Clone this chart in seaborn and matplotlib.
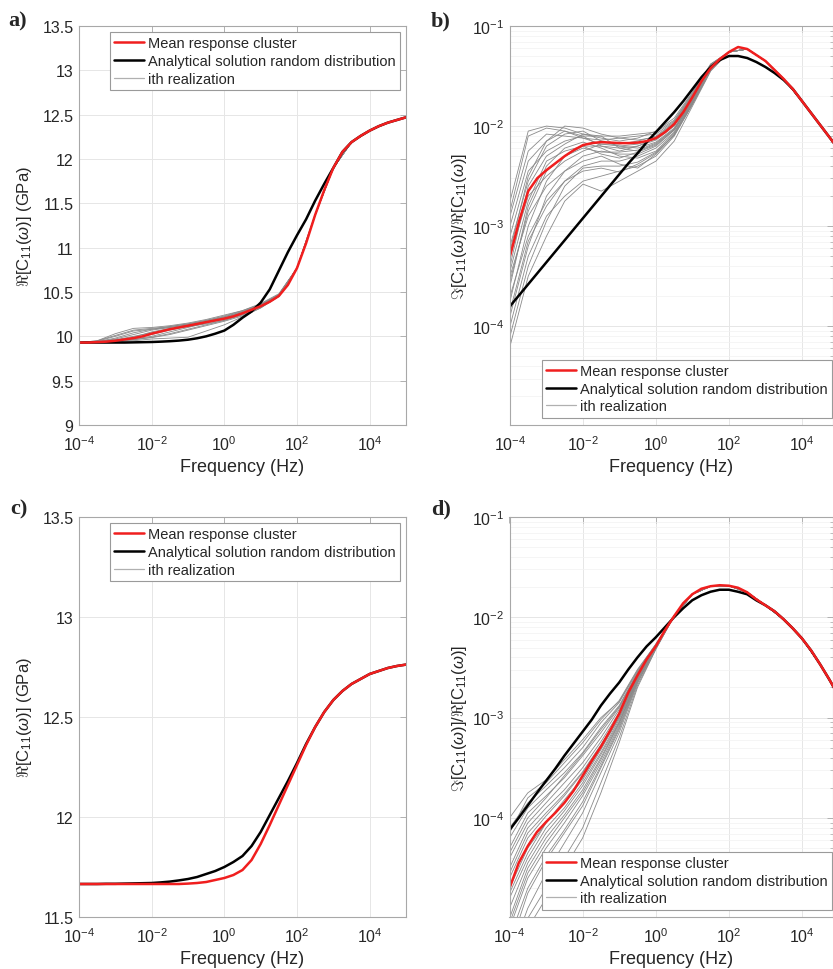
import numpy as np
import pandas as pd
import matplotlib
matplotlib.use("Agg")
import matplotlib.pyplot as plt
import seaborn as sns
from matplotlib.lines import Line2D
from matplotlib.ticker import (FixedLocator, LogLocator, NullFormatter, NullLocator,
                               FormatStrFormatter, LogFormatterSciNotation)

# ---------------- data ----------------
# frequency exponents (log10 Hz)
exp_fine = np.arange(-4.0, 5.001, 0.25)   # 37 points, main curves
exp_half = np.arange(-4.0, 5.001, 0.5)    # 19 points, realizations

# Panel a : Re[C11] (GPa)
a_mean = [9.93, 9.93, 9.935, 9.94, 9.95, 9.965, 9.98, 10.0, 10.03, 10.055, 10.08, 10.10,
          10.12, 10.14, 10.16, 10.18, 10.20, 10.225, 10.26, 10.30, 10.34, 10.39, 10.455,
          10.58, 10.77, 11.05, 11.37, 11.65, 11.90, 12.08, 12.19, 12.26, 12.32, 12.37,
          12.41, 12.44, 12.47]
a_analytic = [9.93, 9.93, 9.93, 9.93, 9.93, 9.93, 9.932, 9.934, 9.936, 9.94, 9.945, 9.952,
              9.962, 9.978, 10.0, 10.03, 10.065, 10.13, 10.21, 10.28, 10.38, 10.53, 10.74,
              10.95, 11.14, 11.32, 11.53, 11.72, 11.90, 12.08, 12.19, 12.26, 12.32, 12.37,
              12.41, 12.44, 12.47]
a_tail = [10.77, 11.37, 11.90, 12.19, 12.32, 12.41, 12.47]
a_real_heads = [
    [9.93, 9.95, 10.03, 10.09, 10.10, 10.12, 10.15, 10.19, 10.24, 10.29, 10.36, 10.47],
    [9.93, 9.94, 9.98, 10.04, 10.08, 10.11, 10.14, 10.18, 10.22, 10.28, 10.35, 10.46],
    [9.93, 9.935, 9.95, 9.97, 10.00, 10.05, 10.10, 10.15, 10.19, 10.25, 10.33, 10.45],
    [9.93, 9.93, 9.94, 9.95, 9.97, 9.98, 9.99, 10.06, 10.13, 10.22, 10.32, 10.45],
    [9.93, 9.94, 9.97, 10.02, 10.07, 10.10, 10.13, 10.17, 10.21, 10.27, 10.35, 10.46],
    [9.93, 9.935, 9.96, 10.00, 10.04, 10.08, 10.12, 10.16, 10.20, 10.26, 10.34, 10.46],
    [9.93, 9.93, 9.94, 9.96, 9.99, 10.03, 10.08, 10.13, 10.18, 10.24, 10.33, 10.45],
    [9.93, 9.95, 10.01, 10.07, 10.09, 10.11, 10.14, 10.18, 10.23, 10.29, 10.37, 10.48],
    [9.93, 9.94, 9.96, 9.98, 10.02, 10.07, 10.11, 10.14, 10.18, 10.25, 10.34, 10.46],
    [9.93, 9.935, 9.955, 9.99, 10.05, 10.09, 10.11, 10.15, 10.21, 10.27, 10.35, 10.47],
    [9.93, 9.945, 10.00, 10.06, 10.08, 10.10, 10.13, 10.17, 10.22, 10.28, 10.36, 10.47],
    [9.93, 9.93, 9.945, 9.965, 9.985, 10.02, 10.07, 10.12, 10.17, 10.23, 10.32, 10.45],
]

# Panel b : log10( Im/Re )
b_mean = [-3.30, -2.95, -2.65, -2.52, -2.44, -2.37, -2.30, -2.24, -2.19, -2.17, -2.16,
          -2.165, -2.17, -2.17, -2.165, -2.15, -2.12, -2.06, -1.98, -1.86, -1.71, -1.55,
          -1.42, -1.33, -1.26, -1.21, -1.23, -1.29, -1.35, -1.44, -1.53, -1.63, -1.75,
          -1.87, -1.99, -2.11, -2.23]
b_analytic = [-3.80, -3.69, -3.58, -3.47, -3.36, -3.25, -3.14, -3.03, -2.92, -2.81, -2.70,
              -2.59, -2.48, -2.37, -2.27, -2.16, -2.06, -1.96, -1.86, -1.75, -1.63, -1.51,
              -1.41, -1.34, -1.30, -1.30, -1.32, -1.36, -1.41, -1.47, -1.54, -1.63, -1.75,
              -1.87, -1.99, -2.11, -2.23]
b_tail = [-1.26, -1.23, -1.35, -1.53, -1.75, -1.99, -2.23]
b_real_heads = [
    [-2.75, -2.05, -2.00, -2.02, -2.08, -2.12, -2.15, -2.12, -2.05, -1.92, -1.66, -1.38],
    [-2.90, -2.25, -2.08, -2.10, -2.12, -2.14, -2.12, -2.10, -2.08, -1.95, -1.68, -1.39],
    [-3.10, -2.45, -2.25, -2.15, -2.10, -2.20, -2.25, -2.20, -2.12, -1.98, -1.70, -1.40],
    [-3.30, -2.70, -2.50, -2.35, -2.25, -2.18, -2.20, -2.22, -2.16, -2.02, -1.73, -1.41],
    [-3.50, -2.90, -2.60, -2.45, -2.30, -2.25, -2.28, -2.28, -2.20, -2.04, -1.75, -1.42],
    [-3.70, -3.10, -2.75, -2.55, -2.40, -2.35, -2.35, -2.30, -2.22, -2.06, -1.76, -1.43],
    [-4.00, -3.30, -2.90, -2.70, -2.55, -2.50, -2.45, -2.40, -2.30, -2.10, -1.78, -1.44],
    [-4.20, -3.50, -3.10, -2.75, -2.58, -2.65, -2.55, -2.45, -2.35, -2.15, -1.80, -1.45],
    [-3.00, -2.35, -2.15, -2.05, -2.12, -2.18, -2.18, -2.15, -2.10, -1.96, -1.69, -1.39],
    [-3.60, -2.80, -2.40, -2.22, -2.16, -2.22, -2.30, -2.32, -2.25, -2.07, -1.76, -1.42],
    [-3.90, -3.20, -2.70, -2.45, -2.35, -2.30, -2.38, -2.42, -2.28, -2.08, -1.77, -1.43],
    [-3.40, -2.60, -2.30, -2.18, -2.08, -2.10, -2.22, -2.20, -2.14, -2.00, -1.72, -1.40],
    [-2.85, -2.10, -2.02, -2.05, -2.10, -2.10, -2.10, -2.08, -2.06, -1.94, -1.67, -1.38],
    [-3.20, -2.55, -2.20, -2.08, -2.05, -2.15, -2.20, -2.18, -2.13, -1.99, -1.71, -1.40],
    [-3.45, -2.75, -2.35, -2.25, -2.20, -2.20, -2.22, -2.25, -2.18, -2.03, -1.74, -1.41],
    [-3.75, -3.00, -2.55, -2.30, -2.20, -2.28, -2.32, -2.26, -2.19, -2.04, -1.75, -1.42],
    [-4.10, -3.40, -2.95, -2.60, -2.42, -2.40, -2.40, -2.36, -2.26, -2.09, -1.78, -1.44],
    [-3.25, -2.50, -2.15, -2.00, -2.02, -2.08, -2.12, -2.14, -2.11, -1.97, -1.70, -1.39],
    [-3.85, -3.15, -2.80, -2.55, -2.45, -2.42, -2.46, -2.38, -2.27, -2.09, -1.78, -1.44],
    [-3.55, -2.85, -2.45, -2.30, -2.22, -2.26, -2.26, -2.24, -2.17, -2.03, -1.74, -1.41],
]

# Panel c : Re[C11] (GPa)
c_mean = [11.665] * 12 + [11.667, 11.67, 11.675, 11.685, 11.695, 11.71, 11.735, 11.785,
                          11.865, 11.96, 12.06, 12.16, 12.26, 12.36, 12.45, 12.525, 12.585,
                          12.63, 12.665, 12.69, 12.715, 12.73, 12.745, 12.755, 12.762]
c_analytic = [11.665, 11.665, 11.665, 11.666, 11.666, 11.667, 11.668, 11.669, 11.67, 11.673,
              11.677, 11.683, 11.69, 11.70, 11.715, 11.73, 11.75, 11.775, 11.805, 11.855,
              11.925, 12.01, 12.095, 12.18, 12.27, 12.365, 12.45, 12.525, 12.585, 12.63,
              12.665, 12.69, 12.715, 12.73, 12.745, 12.755, 12.762]

# Panel d : log10( Im/Re )
d_mean = [-4.70, -4.45, -4.28, -4.14, -4.04, -3.95, -3.85, -3.73, -3.58, -3.43, -3.29,
          -3.13, -2.96, -2.75, -2.58, -2.42, -2.29, -2.13, -1.99, -1.86, -1.77, -1.715,
          -1.69, -1.68, -1.685, -1.705, -1.75, -1.82, -1.88, -1.94, -2.02, -2.11, -2.21,
          -2.33, -2.47, -2.62, -2.78]
d_analytic = [-4.12, -4.00, -3.875, -3.75, -3.63, -3.51, -3.38, -3.26, -3.14, -3.02, -2.88,
              -2.76, -2.65, -2.52, -2.40, -2.29, -2.20, -2.10, -2.00, -1.91, -1.83, -1.78,
              -1.745, -1.725, -1.725, -1.745, -1.77, -1.83, -1.88, -1.94, -2.02, -2.11,
              -2.21, -2.33, -2.47, -2.62, -2.78]
d_tail = [-1.99, -1.77, -1.69, -1.685, -1.75, -1.88, -2.02, -2.21, -2.47, -2.78]
d_real_heads = [
    [-4.00, -3.75, -3.62, -3.42, -3.22, -3.00, -2.84, -2.53, -2.27],
    [-4.20, -3.90, -3.72, -3.55, -3.35, -3.10, -2.88, -2.55, -2.28],
    [-4.40, -4.05, -3.85, -3.65, -3.45, -3.20, -2.92, -2.57, -2.28],
    [-4.60, -4.20, -3.98, -3.78, -3.55, -3.28, -2.97, -2.59, -2.29],
    [-4.80, -4.40, -4.10, -3.90, -3.65, -3.35, -3.02, -2.61, -2.30],
    [-5.10, -4.60, -4.30, -4.05, -3.78, -3.45, -3.08, -2.63, -2.30],
    [-5.40, -4.90, -4.55, -4.25, -3.95, -3.55, -3.15, -2.66, -2.31],
    [-5.60, -5.10, -4.80, -4.50, -4.20, -3.75, -3.25, -2.70, -2.32],
    [-4.10, -3.85, -3.68, -3.50, -3.30, -3.05, -2.85, -2.54, -2.27],
    [-4.50, -4.10, -3.90, -3.72, -3.50, -3.24, -2.95, -2.58, -2.29],
    [-5.00, -4.50, -4.20, -3.97, -3.72, -3.40, -3.05, -2.62, -2.30],
    [-5.30, -4.75, -4.42, -4.15, -3.88, -3.50, -3.12, -2.65, -2.31],
    [-4.30, -3.95, -3.78, -3.60, -3.38, -3.15, -2.90, -2.56, -2.28],
    [-4.70, -4.30, -4.05, -3.82, -3.60, -3.30, -3.00, -2.60, -2.29],
    [-4.15, -3.80, -3.65, -3.45, -3.25, -3.02, -2.83, -2.52, -2.27],
    [-4.55, -4.15, -3.95, -3.76, -3.54, -3.27, -2.98, -2.59, -2.29],
    [-4.90, -4.45, -4.15, -3.93, -3.68, -3.37, -3.04, -2.62, -2.30],
    [-5.20, -4.70, -4.38, -4.12, -3.84, -3.48, -3.10, -2.64, -2.31],
    [-5.50, -5.00, -4.70, -4.40, -4.10, -3.65, -3.20, -2.68, -2.32],
    [-4.35, -4.00, -3.80, -3.58, -3.36, -3.12, -2.89, -2.56, -2.28],
    [-4.75, -4.35, -4.05, -3.85, -3.62, -3.32, -3.00, -2.60, -2.29],
    [-5.05, -4.55, -4.25, -4.00, -3.75, -3.42, -3.06, -2.62, -2.30],
]

legend_labels = ["Mean response cluster", "Analytical solution random distribution",
                 "ith realization"]
panel_tags = ["a)", "b)", "c)", "d)"]
x_ticks = [1e-4, 1e-2, 1e0, 1e2, 1e4]

# ---------------- style ----------------
sns.set_theme(style="white")
plt.rcParams["font.family"] = ["Liberation Sans", "DejaVu Sans"]
plt.rcParams["mathtext.fontset"] = "custom"
plt.rcParams["mathtext.rm"] = "Liberation Sans"
plt.rcParams["mathtext.it"] = "Liberation Sans:italic"
plt.rcParams["mathtext.bf"] = "Liberation Sans:bold"

RED = "#f01e1e"
BLACK = "#000000"
GRAY = "#8a8a8a"
SPINE = "#a8a8a8"
TXT = "#262626"

fig = plt.figure(figsize=(8.33, 9.70), dpi=100)
W, H = 833.0, 970.0


def axes_px(l, t, r, b):
    return fig.add_axes([l / W, 1 - b / H, (r - l) / W, (b - t) / H])


ax_a = axes_px(79, 27, 406, 426)
ax_b = axes_px(510, 27, 833, 426)
ax_c = axes_px(79, 518, 406, 918)
ax_d = axes_px(509.5, 518, 833, 918)


def realizations(heads, tail, logscale):
    rows = []
    for i, h in enumerate(heads):
        vals = list(h) + list(tail)
        for e, v in zip(exp_half, vals):
            rows.append({"f": 10.0 ** e, "v": 10.0 ** v if logscale else v, "run": i})
    return pd.DataFrame(rows)


def draw(ax, mean, analytic, heads, tail, logscale):
    f_fine = 10.0 ** exp_fine
    m = 10.0 ** np.array(mean) if logscale else np.array(mean)
    an = 10.0 ** np.array(analytic) if logscale else np.array(analytic)
    if heads is not None:
        df = realizations(heads, tail, logscale)
        sns.lineplot(data=df, x="f", y="v", units="run", estimator=None, color=GRAY,
                     lw=0.6, ax=ax, legend=False, sort=False)
    sns.lineplot(x=f_fine, y=an, color=BLACK, lw=1.8, ax=ax, legend=False, sort=False)
    sns.lineplot(x=f_fine, y=m, color=RED, lw=1.8, ax=ax, legend=False, sort=False)
    ax.set_xscale("log")
    if logscale:
        ax.set_yscale("log")


draw(ax_a, a_mean, a_analytic, a_real_heads, a_tail, False)
draw(ax_b, b_mean, b_analytic, b_real_heads, b_tail, True)
draw(ax_c, c_mean, c_analytic, None, None, False)
draw(ax_d, d_mean, d_analytic, d_real_heads, d_tail, True)

handles = [Line2D([], [], color=RED, lw=1.8), Line2D([], [], color=BLACK, lw=1.8),
           Line2D([], [], color="#b0b0b0", lw=0.9)]

for ax, tag in zip([ax_a, ax_b, ax_c, ax_d], panel_tags):
    logy = ax.get_yscale() == "log"
    if ax in (ax_a, ax_c):
        ax.set_xlim(1e-4, 1e5)
    else:
        ax.set_xlim(1e-4, 10 ** 4.85)
    ax.xaxis.set_major_locator(FixedLocator(x_ticks))
    ax.xaxis.set_major_formatter(LogFormatterSciNotation())
    ax.xaxis.set_minor_locator(NullLocator())
    if ax is ax_a:
        ax.set_ylim(9, 13.5)
        ax.set_yticks(np.arange(9, 13.51, 0.5))
        ax.yaxis.set_major_formatter(FormatStrFormatter("%g"))
    elif ax is ax_c:
        ax.set_ylim(11.5, 13.5)
        ax.set_yticks(np.arange(11.5, 13.51, 0.5))
        ax.yaxis.set_major_formatter(FormatStrFormatter("%g"))
    else:
        ax.set_ylim(1.03e-5, 1e-1)
        ax.yaxis.set_major_locator(FixedLocator([1e-4, 1e-3, 1e-2, 1e-1]))
        ax.yaxis.set_major_formatter(LogFormatterSciNotation())
        ax.yaxis.set_minor_locator(LogLocator(base=10, subs=np.arange(2, 10)))
        ax.yaxis.set_minor_formatter(NullFormatter())
        ax.grid(True, which="minor", axis="y", color="#f2f2f2", lw=0.5)
    ax.grid(True, which="major", color="#e6e6e6", lw=0.7)
    ax.set_axisbelow(True)
    for s in ax.spines.values():
        s.set_color(SPINE)
        s.set_linewidth(0.8)
    ax.tick_params(which="major", direction="in", length=4, width=0.6, color=SPINE,
                   top=True, right=True, labelsize=11.5, labelcolor=TXT)
    ax.tick_params(axis="x", which="major", pad=7)
    ax.tick_params(axis="y", which="major", pad=4)
    ax.tick_params(which="minor", direction="in", length=2, width=0.5, color=SPINE,
                   top=False, right=True, bottom=False)
    ax.set_xlabel("Frequency (Hz)", fontsize=13, color=TXT, labelpad=3)
    if logy:
        ax.set_ylabel(r"$\Im$[C$_{11}$($\omega$)]/$\Re$[C$_{11}$($\omega$)]",
                      fontsize=12, color=TXT, labelpad=2)
    else:
        ax.set_ylabel(r"$\Re$[C$_{11}$($\omega$)] (GPa)", fontsize=12, color=TXT,
                      labelpad=6)

# legends
leg_kw = dict(fontsize=10.5, frameon=True, fancybox=False, edgecolor="#9a9a9a",
              framealpha=1.0, handlelength=2.0, handletextpad=0.3, borderpad=0.3,
              labelspacing=0.25, borderaxespad=0.0)
for ax in (ax_a, ax_c):
    lg = ax.legend(handles, legend_labels, loc="upper left",
                   bbox_to_anchor=((110 - 79) / 327.0, 0.985), **leg_kw)
    lg.get_frame().set_linewidth(0.8)
for ax in (ax_b, ax_d):
    lg = ax.legend(handles, legend_labels, loc="lower right",
                   bbox_to_anchor=(0.997, 0.018), **leg_kw)
    lg.get_frame().set_linewidth(0.8)

# panel tags
tag_kw = dict(fontsize=16, fontweight="bold", family=["Liberation Serif", "DejaVu Serif"],
              va="center", ha="left")
fig.text(8 / W, 1 - 21 / H, panel_tags[0], **tag_kw)
fig.text(431 / W, 1 - 21 / H, panel_tags[1], **tag_kw)
fig.text(10 / W, 1 - 509 / H, panel_tags[2], **tag_kw)
fig.text(431 / W, 1 - 509 / H, panel_tags[3], **tag_kw)

fig.savefig("out.png", dpi=100)
